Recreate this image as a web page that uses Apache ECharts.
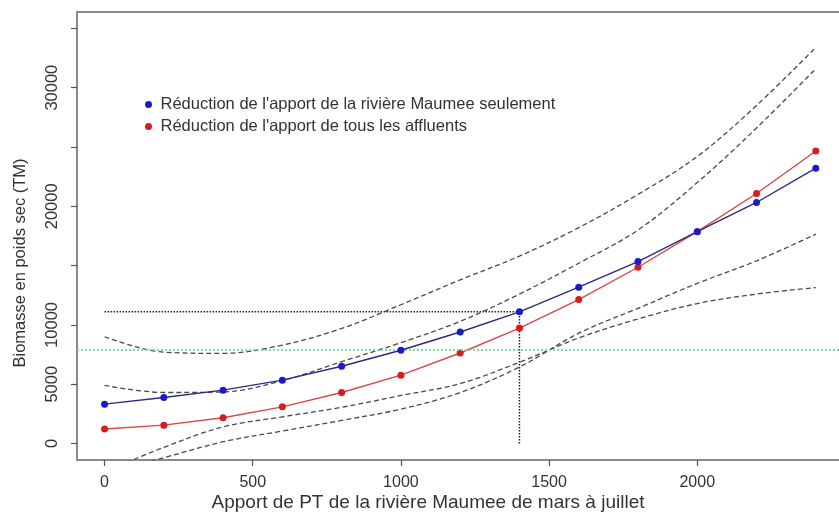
<!DOCTYPE html>
<html>
<head>
<meta charset="utf-8">
<script src="https://cdn.jsdelivr.net/npm/echarts@6/dist/echarts.min.js"></script>
<style>
  html, body { margin: 0; padding: 0; background: #fff; overflow: hidden; }
  #chart { width: 860px; height: 516px; }
</style>
</head>
<body>
<div id="chart"></div>
<script>
// Apport de phosphore total (PT) de la rivière Maumee, mars à juillet
const apportPT = [0, 200, 400, 600, 800, 1000, 1200, 1400, 1600, 1800, 2000, 2200, 2400];

// Biomasse prédite (TM, poids sec)
const maumeeSeule   = [3320, 3880, 4500, 5340, 6510, 7860, 9400, 11100, 13180, 15340, 17860, 20320, 23210];
const tousAffluents = [1220, 1550, 2170, 3090, 4300, 5760, 7630, 9730, 12140, 14860, 17860, 21080, 24660];

// Intervalles de confiance
const maumeeHaut = [9000, 7700, 7600, 8300, 9700, 11700, 13800, 15800, 18200, 21000, 24200, 28500, 33400];
const maumeeBas  = [-2400, -320, 1400, 2250, 3050, 4050, 5050, 6850, 8900, 10500, 11800, 12600, 13150];
const tousHaut   = [4900, 4300, 4350, 5300, 6900, 8500, 10300, 12600, 15200, 18000, 22000, 26600, 31600];
const tousBas    = [-2600, -1200, 150, 1050, 1950, 2900, 4300, 6450, 9300, 11400, 13500, 15400, 17650];

// Seuils de référence
const seuilBiomasse = 7900;
const cibleApport = 1400;
const cibleBiomasse = 11100;

// Graduations
const xTicks = [0, 500, 1000, 1500, 2000];
const yTicks = [0, 5000, 10000, 15000, 20000, 25000, 30000, 35000];
const yLabels = [0, 5000, 10000, 20000, 30000];

const serieNoms = [
  "Réduction de l'apport de la rivière Maumee seulement",
  "Réduction de l'apport de tous les affluents"
];

const pairs = (xs, ys) => xs.map((x, i) => [x, ys[i]]);
const FONT = "'Liberation Sans', Arial, sans-serif";

const dashed = (name, ys) => ({
  name: name,
  type: 'line',
  data: pairs(apportPT, ys),
  smooth: 0.35,
  symbol: 'none',
  silent: true,
  lineStyle: { color: '#4a4a4a', width: 1.3, type: [5, 3] },
  z: 2
});

const chart = echarts.init(document.getElementById('chart'), null, { renderer: 'canvas' });

chart.setOption({
  animation: false,
  backgroundColor: '#ffffff',
  grid: {
    left: 77, top: 12, right: 11, bottom: 56,
    show: true, borderColor: '#8a8a8a', borderWidth: 2, backgroundColor: 'transparent'
  },
  legend: {
    data: serieNoms,
    orient: 'vertical',
    left: 140, top: 91,
    icon: 'circle',
    itemWidth: 14, itemHeight: 7,
    itemGap: 5,
    textStyle: { fontFamily: FONT, fontSize: 16.5, color: '#333', lineHeight: 14 }
  },
  xAxis: {
    type: 'value',
    min: -93, max: 2512,
    axisLine: { show: false, onZero: false },
    splitLine: { show: false },
    axisTick: { show: true, length: 6, customValues: xTicks, lineStyle: { color: '#555', width: 1.2 } },
    axisLabel: {
      customValues: xTicks, fontFamily: FONT, fontSize: 16, color: '#333', margin: 15,
      formatter: v => String(v)
    }
  },
  yAxis: {
    type: 'value',
    min: -1390, max: 36380,
    axisLine: { show: false, onZero: false },
    splitLine: { show: false },
    axisTick: { show: true, length: 6, customValues: yTicks, lineStyle: { color: '#555', width: 1.2 } },
    axisLabel: {
      customValues: yLabels, rotate: 90, fontFamily: FONT, fontSize: 16.5, color: '#333', margin: 16,
      formatter: v => String(v)
    }
  },
  graphic: [
    {
      type: 'text', x: 428, y: 503,
      style: {
        text: 'Apport de PT de la rivière Maumee de mars à juillet', font: '19px ' + FONT, fill: '#333',
        align: 'center', verticalAlign: 'middle'
      }
    },
    {
      type: 'text', x: 20, y: 263, rotation: Math.PI / 2,
      style: {
        text: 'Biomasse en poids sec (TM)', font: '16.5px ' + FONT, fill: '#333',
        align: 'center', verticalAlign: 'middle'
      }
    }
  ],
  series: [
    dashed('maumeeHaut', maumeeHaut),
    dashed('maumeeBas', maumeeBas),
    dashed('tousHaut', tousHaut),
    dashed('tousBas', tousBas),
    {
      name: 'seuil',
      type: 'line',
      data: [],
      silent: true,
      markLine: {
        silent: true,
        symbol: 'none',
        label: { show: false },
        lineStyle: { color: '#86d6a6', type: 'dotted', width: 2 },
        data: [{ yAxis: seuilBiomasse }]
      }
    },
    {
      name: 'cibleH',
      type: 'line',
      data: [[0, cibleBiomasse], [cibleApport, cibleBiomasse]],
      symbol: 'none', silent: true,
      lineStyle: { color: '#222', type: 'dotted', width: 1.5 },
      z: 3
    },
    {
      name: 'cibleV',
      type: 'line',
      data: [[cibleApport, 0], [cibleApport, cibleBiomasse]],
      symbol: 'none', silent: true,
      lineStyle: { color: '#222', type: 'dotted', width: 1.5 },
      z: 3
    },
    {
      name: serieNoms[1],
      type: 'line',
      data: pairs(apportPT, tousAffluents),
      symbol: 'circle', symbolSize: 7,
      itemStyle: { color: '#d81c1c' },
      lineStyle: { color: '#d84848', width: 1.4 },
      z: 4
    },
    {
      name: serieNoms[0],
      type: 'line',
      data: pairs(apportPT, maumeeSeule),
      symbol: 'circle', symbolSize: 7,
      itemStyle: { color: '#1a1ac8' },
      lineStyle: { color: '#2c2c7c', width: 1.4 },
      z: 5
    }
  ]
});
</script>
</body>
</html>
